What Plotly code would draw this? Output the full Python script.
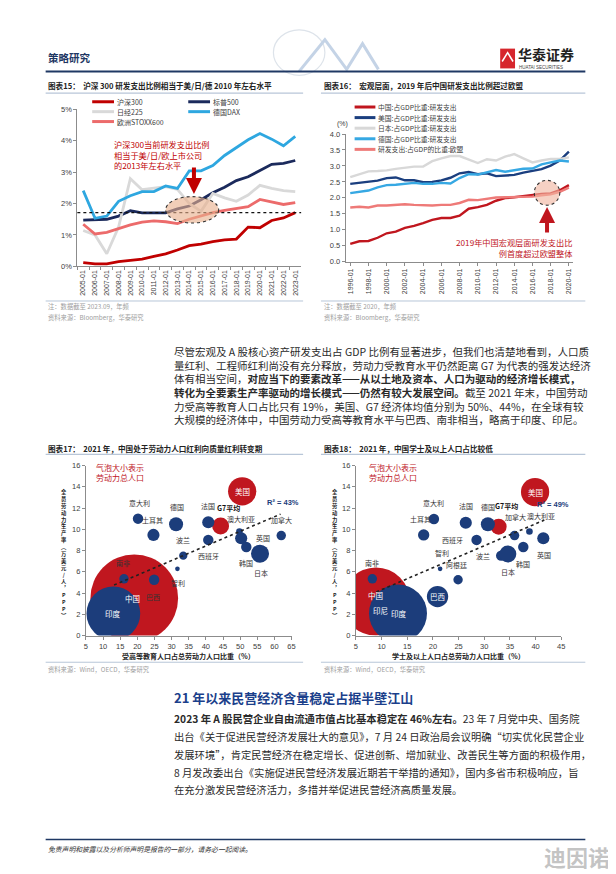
import plotly.graph_objects as go

W, H = 616, 874
def px(x): return x / W
def py(y): return 1 - y / H

# ---------------- data: chart 15 (listed-company R&D / revenue, %) ----------------
years15 = ["2005-01", "2006-01", "2007-01", "2008-01", "2009-01", "2010-01", "2011-01",
           "2012-01", "2013-01", "2014-01", "2015-01", "2016-01", "2017-01", "2018-01",
           "2019-01", "2020-01", "2021-01", "2022-01", "2023-01"]
hs300 = [0.12, 0.08, 0.08, 0.15, 0.19, 0.23, 0.32, 0.40, 0.52, 0.66, 0.71, 0.79, 0.84, 0.87,
         1.25, 1.23, 1.46, 1.54, 1.71]
sp500 = [1.47, 1.48, 1.50, 1.60, 1.77, 1.70, 1.70, 1.70, 1.83, 1.92, 2.12, 2.34, 2.52, 2.73,
         2.85, 3.04, 3.25, 3.28, 3.37]
nikkei225 = [1.14, 1.00, 0.40, 1.25, 2.79, 2.44, 2.49, 2.54, 2.45, 2.00, 1.75, 2.32, 2.18, 2.07,
             2.27, 2.58, 2.48, 2.41, 2.38]
dax = [2.41, 1.53, 1.60, 2.07, 2.25, 2.38, 2.38, 2.56, 2.48, 3.04, 3.04, 3.21, 3.53, 3.77,
       4.03, 4.23, 4.05, 3.84, 4.14]
stoxx600 = [1.34, 1.03, 1.08, 1.20, 1.32, 1.41, 1.45, 1.42, 1.36, 1.50, 1.60, 1.71, 1.78, 1.83,
            1.90, 2.13, 2.06, 1.97, 2.03]
names15 = ["沪深300", "标普500", "日经225", "德国DAX", "欧洲STOXX600"]

# ---------------- data: chart 16 (GERD / GDP, %) ----------------
years16 = [f"{y}-01" for y in range(1996, 2021)]
china_rd = [0.56, 0.64, 0.65, 0.75, 0.89, 0.94, 1.06, 1.12, 1.21, 1.31, 1.37, 1.37, 1.44, 1.66,
            1.71, 1.78, 1.91, 1.99, 2.02, 2.06, 2.10, 2.12, 2.14, 2.24, 2.40]
us_rd = [2.44, 2.47, 2.50, 2.54, 2.62, 2.64, 2.55, 2.55, 2.49, 2.50, 2.55, 2.63, 2.77, 2.81,
         2.74, 2.77, 2.68, 2.71, 2.72, 2.79, 2.85, 2.90, 3.01, 3.17, 3.45]
japan_rd = [2.65, 2.73, 2.83, 2.84, 2.86, 2.91, 2.95, 2.98, 2.98, 3.15, 3.24, 3.31, 3.31, 3.19,
            3.09, 3.21, 3.17, 3.29, 3.37, 3.24, 3.11, 3.17, 3.22, 3.22, 3.27]
germany_rd = [2.15, 2.20, 2.23, 2.33, 2.40, 2.41, 2.43, 2.47, 2.44, 2.44, 2.47, 2.45, 2.62, 2.74,
              2.73, 2.81, 2.87, 2.82, 2.87, 2.91, 2.92, 3.05, 3.11, 3.17, 3.14]
eu_rd = [1.70, 1.72, 1.70, 1.76, 1.76, 1.78, 1.80, 1.78, 1.76, 1.76, 1.78, 1.78, 1.84, 1.94,
         1.93, 1.97, 2.01, 2.02, 2.03, 2.04, 2.04, 2.08, 2.11, 2.19, 2.32]
names16 = ["中国:占GDP比重:研发支出", "美国:占GDP比重:研发支出", "日本:占GDP比重:研发支出",
           "德国:占GDP比重:研发支出", "研发支出:占GDP的比重:欧盟"]

# ---------------- data: chart 17 (tertiary-educated share vs productivity) ----------------
c17 = ["巴西", "中国", "印度", "美国", "G7平均", "南非", "意大利", "土耳其", "德国", "法国", "波兰",
       "西班牙", "智利", "阿根廷", "澳大利亚", "加拿大", "英国", "韩国", "日本"]
edu17 = [19.5, 19.1, 13.0, 50.6, 44.3, 16.1, 20.2, 24.7, 31.3, 40.7, 40.7,
         33.4, 31.7, 24.9, 49.8, 62.0, 50.3, 51.8, 55.8]
prod17 = [3.5, 3.5, 2.08, 13.58, 10.31, 5.34, 11.0, 9.47, 10.47, 10.66, 9.0,
          7.52, 6.28, 5.25, 9.79, 9.41, 9.16, 8.33, 7.70]
labour17 = [46, 780, 293, 81, 29, 9, 11, 15, 20, 15, 11, 7, 2.2, 11, 4.5, 9, 15, 11, 33]
trend17_x = [13.2, 61.8]
trend17_y = [4.75, 11.43]

# ---------------- data: chart 18 (bachelor+ share vs productivity) ----------------
c18 = ["印尼", "中国", "印度", "巴西", "美国", "G7平均", "南非", "意大利", "土耳其", "法国", "德国",
       "西班牙", "智利", "阿根廷", "波兰", "日本", "韩国", "英国", "加拿大", "澳大利亚"]
edu18 = [10.3, 8.9, 13.2, 20.9, 39.9, 32.8, 8.2, 20.2, 18.2, 26.4, 30.7,
         28.5, 21.4, 24.9, 33.3, 34.6, 37.6, 41.5, 35.9, 38.8]
prod18 = [2.55, 3.2, 2.08, 3.67, 13.51, 10.25, 5.34, 10.97, 9.47, 10.62, 10.47,
          9.0, 6.28, 5.25, 7.52, 7.67, 8.33, 9.16, 9.41, 9.79]
labour18 = [60, 470, 341, 46, 81, 26, 9, 11, 13, 15, 20, 11, 2.2, 9, 11, 29, 11, 15, 9, 4.5]
trend18_x = [7.9, 41.7]
trend18_y = [3.88, 10.87]

# ---------------- styles ----------------
CJK = "Noto Sans CJK SC, Liberation Sans, sans-serif"
LAT = "Liberation Sans, Noto Sans CJK SC, sans-serif"
RED = "#C0171F"
NAVY = "#1C3D7B"
TXT = "#333333"
RULE = "#B8C6D8"
col15 = ["#C00000", "#1B2A5C", "#D9D9D9", "#2EA7E0", "#EC6B6B"]
col16 = ["#C0161E", "#1B3F7F", "#D8D8D8", "#36A8E3", "#EE7A78"]
REDS = {"中国", "美国", "G7平均"}

fig = go.Figure()

# chart 15 lines
for nm, ys, c in zip(names15, [hs300, sp500, nikkei225, dax, stoxx600], col15):
    fig.add_trace(go.Scatter(x=years15, y=ys, mode="lines", name=nm,
                             line=dict(color=c, width=2.8), xaxis="x", yaxis="y",
                             showlegend=False))
# chart 16 lines
for nm, ys, c in zip(names16, [china_rd, us_rd, japan_rd, germany_rd, eu_rd], col16):
    fig.add_trace(go.Scatter(x=years16, y=ys, mode="lines", name=nm,
                             line=dict(color=c, width=2.4), xaxis="x2", yaxis="y2",
                             showlegend=False))

SIZEREF = 780 / 62 ** 2
def bubbles(names, xs, ys, sz, xa, ya):
    cols = [RED if n in REDS else NAVY for n in names]
    fig.add_trace(go.Scatter(x=xs, y=ys, mode="markers", text=names, xaxis=xa, yaxis=ya,
                             marker=dict(size=sz, sizemode="area", sizeref=SIZEREF,
                                         color=cols, opacity=1, line=dict(width=0)),
                             showlegend=False))

bubbles(c17, edu17, prod17, labour17, "x3", "y3")
bubbles(c18, edu18, prod18, labour18, "x4", "y4")
# dotted trend lines drawn above the bubbles
fig.add_trace(go.Scatter(x=trend17_x, y=trend17_y, mode="lines", xaxis="x3", yaxis="y3",
                         line=dict(color="#222", width=1.6, dash="dot"), showlegend=False))
fig.add_trace(go.Scatter(x=trend18_x, y=trend18_y, mode="lines", xaxis="x4", yaxis="y4",
                         line=dict(color="#222", width=1.6, dash="dot"), showlegend=False))

axis_common = dict(showgrid=False, zeroline=False, showline=True, linecolor="#8C8C8C",
                   linewidth=1, ticks="outside", ticklen=3, tickcolor="#8C8C8C",
                   tickfont=dict(family=LAT, size=7.5, color="#404040"))

fig.update_layout(
    width=W, height=H, margin=dict(l=0, r=0, t=0, b=0),
    paper_bgcolor="white", plot_bgcolor="rgba(0,0,0,0)", showlegend=False,
    xaxis=dict(axis_common, type="category", domain=[px(68), px(294)], anchor="y",
               range=[-0.5, len(years15) - 0.5], tickangle=-90, tickson="boundaries",
               tickfont=dict(family=LAT, size=7, color="#404040")),
    yaxis=dict(axis_common, domain=[py(257), py(98.3)], anchor="x", range=[0, 5],
               dtick=1, ticksuffix="%"),
    xaxis2=dict(axis_common, type="category", domain=[px(339), px(569)], anchor="y2",
                range=[-0.5, len(years16) - 0.5], tickangle=-90,
                tickvals=years16[::2], ticktext=years16[::2],
                tickfont=dict(family=LAT, size=7, color="#404040")),
    yaxis2=dict(axis_common, domain=[py(252.3), py(123.3)], anchor="x2", range=[0, 4],
                dtick=0.5, tickformat=".1f"),
    xaxis3=dict(axis_common, domain=[px(76.7), px(284.3)], anchor="y3", range=[5, 65],
                dtick=5),
    yaxis3=dict(axis_common, domain=[py(630), py(458.3)], anchor="x3", range=[0, 16],
                dtick=2),
    xaxis4=dict(axis_common, domain=[px(349.3), px(556.7)], anchor="y4", range=[5, 45],
                dtick=5),
    yaxis4=dict(axis_common, domain=[py(630), py(458.3)], anchor="x4", range=[0, 16],
                dtick=2),
)

shapes = []
anns = []

def hline(x0, x1, y, color, width):
    shapes.append(dict(type="line", xref="paper", yref="paper", x0=px(x0), x1=px(x1),
                       y0=py(y), y1=py(y), line=dict(color=color, width=width)))

def txt(x, y, s, size=7, color=TXT, anchor="left", family=CJK, angle=0):
    anns.append(dict(x=px(x), y=py(y), xref="paper", yref="paper", text=s, showarrow=False,
                     xanchor=anchor, yanchor="middle", textangle=angle, align=anchor
                     if anchor != "center" else "center",
                     font=dict(family=family, size=size, color=color), borderpad=0))

# ---- page header ----
shapes.append(dict(type="circle", xref="paper", yref="paper", x0=px(266), x1=px(318),
                   y0=py(64), y1=py(18), line=dict(color="#DDE3EA", width=1.2)))
shapes.append(dict(type="path", xref="paper", yref="paper",
                   path=f"M {px(292)} {py(60)} L {px(318)} {py(28)} L {px(340)} {py(58)} "
                        f"L {px(356)} {py(32)} L {px(372)} {py(58)}",
                   line=dict(color="#C4D3E6", width=3)))
txt(37, 46, "<b>策略研究</b>", 10.5, "#1F3864")
shapes.append(dict(type="rect", xref="paper", yref="paper", x0=px(495), x1=px(510),
                   y0=py(57), y1=py(37), fillcolor="#D6262C", line=dict(width=0)))
shapes.append(dict(type="path", xref="paper", yref="paper",
                   path=f"M {px(497)} {py(50)} L {px(502.5)} {py(41)} L {px(508)} {py(50)}",
                   line=dict(color="white", width=1.5)))
txt(512, 42.5, "<b>华泰证券</b>", 14, "#222222")
txt(513, 56.5, "HUATAI SECURITIES", 4.5, "#444444", family=LAT)
hline(36, 581, 60, "#1F3864", 2)

# ---- chart titles & rules ----
txt(37, 74, "<b>图表15：  沪深 300 研发支出比例相当于美/日/德 2010 年左右水平</b>", 7.6, "#222")
txt(316, 74, "<b>图表16：  宏观层面，2019 年后中国研发支出比例超过欧盟</b>", 7.6, "#222")
hline(36, 296, 82, RULE, 1.2)
hline(314, 581, 82, RULE, 1.2)
hline(36, 296, 292, RULE, 1)
hline(314, 581, 292, RULE, 1)
txt(37, 298, "注：数据截至 2023.09，年频", 6.3, "#A0A0A0")
txt(37, 309, "资料来源：Bloomberg，华泰研究", 6.3, "#A0A0A0")
txt(316, 298, "注：数据截至 2020，年频", 6.3, "#A0A0A0")
txt(316, 309, "资料来源：Bloomberg，华泰研究", 6.3, "#A0A0A0")

txt(37, 441, "<b>图表17：  2021 年，中国处于劳动力人口红利向质量红利转变期</b>", 7.6, "#222")
txt(316, 441, "<b>图表18：  2021 年，中国学士及以上人口占比较低</b>", 7.6, "#222")
hline(36, 296, 447, RULE, 1.2)
hline(314, 581, 447, RULE, 1.2)
hline(36, 296, 657, RULE, 1)
hline(314, 581, 657, RULE, 1)
txt(37, 664, "资料来源：Wind，OECD，华泰研究", 6.3, "#A0A0A0")
txt(316, 664, "资料来源：Wind，OECD，华泰研究", 6.3, "#A0A0A0")

# ---- chart 15 legend ----
leg15 = [(0, 83, 90.7), (2, 83, 100.7), (4, 83, 110.7), (1, 180, 90.7), (3, 180, 100.7)]
for i, x0, y in leg15:
    hline(x0, x0 + 22, y, col15[i], 3)
    txt(x0 + 24, y, names15[i], 7, "#404040")

# ---- chart 15 decorations ----
shapes.append(dict(type="line", xref="x domain", yref="y", x0=0, x1=1,
                   y0=hs300[-1], y1=hs300[-1],
                   line=dict(color="#111", width=1.4, dash="dot"), layer="above"))
shapes.append(dict(type="circle", xref="x", yref="y", x0=7.0, x1=11.5, y0=1.38, y1=2.22,
                   fillcolor="rgba(232,176,140,0.62)",
                   line=dict(color="#333", width=1.1, dash="dot"), layer="above"))
anns.append(dict(x=9.4, y=2.30, xref="x", yref="y", ax=0, ay=-28, text="", showarrow=True,
                 arrowhead=2, arrowsize=0.8, arrowwidth=4, arrowcolor="#C00000"))
txt(104, 143.7, "沪深300当前研发支出比例<br>相当于美/日/欧上市公司<br>的2013年左右水平",
    8.2, "#C00000")

# ---- chart 16 legend & decorations ----
for i in range(5):
    y = 96 + i * 10.7
    hline(348, 369, y, col16[i], 3)
    txt(371, y, names16[i], 6.8, "#404040")
txt(336, 113, "(%)", 7, "#404040", anchor="center", family=LAT)
shapes.append(dict(type="circle", xref="x2", yref="y2", x0=20.2, x1=23.0, y0=1.77, y1=2.55,
                   fillcolor="rgba(240,180,160,0.62)",
                   line=dict(color="#333", width=1.1, dash="dot"), layer="above"))
anns.append(dict(x=21.6, y=1.71, xref="x2", yref="y2", ax=0, ay=27, text="", showarrow=True,
                 arrowhead=2, arrowsize=0.8, arrowwidth=4, arrowcolor="#C0161E"))
txt(569, 238.3, "2019年中国宏观层面研发支出比<br>例首度超过欧盟整体", 8.2, "#C0161E",
    anchor="right")

# ---- bubble chart labels ----
def blabel(xa, ya, x, y, s, dx, dy, color=TXT, size=7, bold=False):
    anns.append(dict(x=x, y=y, xref=xa, yref=ya, text=f"<b>{s}</b>" if bold else s,
                     showarrow=False, xshift=dx, yshift=dy, xanchor="center",
                     yanchor="middle", font=dict(family=CJK, size=size, color=color)))

lab17 = {"中国": (-2, 0, "w"), "巴西": (17, 1, "d"), "印度": (0, 0, "w"), "美国": (0, 0, "w"),
         "G7平均": (8, 18, "b"), "南非": (-1, 16, "d"), "意大利": (1, 16, "d"),
         "土耳其": (-1, 15, "d"), "德国": (1, 17, "d"), "法国": (0, 16, "d"),
         "波兰": (-25, 0, "d"), "西班牙": (25, 0, "d"), "智利": (1, -14, "d"),
         "澳大利亚": (2, 13, "d"), "加拿大": (0, 16, "d"), "英国": (22, 0, "d"),
         "韩国": (0, -16, "d"), "日本": (1, -19, "d")}
for n, x, y in zip(c17, edu17, prod17):
    if n in lab17:
        dx, dy, k = lab17[n]
        col = "white" if k == "w" else ("#111" if k == "b" else "#333")
        blabel("x3", "y3", x, y, n, dx, dy, col, 7.5 if k == "w" else 7, k == "b")

lab18 = {"印尼": (-3, -2, "w"), "中国": (0, 6, "w"), "印度": (1, 0, "w"), "巴西": (0, 0, "w"),
         "美国": (0, 0, "w"), "G7平均": (8, 21, "b"), "南非": (0, 16, "d"),
         "意大利": (0, 16, "d"), "土耳其": (-3, 16, "d"), "法国": (0, 17, "d"),
         "德国": (0, 17, "d"), "西班牙": (-24, 0, "d"), "智利": (2, 16, "d"),
         "阿根廷": (-2, 15, "d"), "波兰": (-18, 0, "d"), "日本": (0, -18, "d"),
         "韩国": (0, -17, "d"), "英国": (1, -17, "d"), "加拿大": (1, 19, "d"),
         "澳大利亚": (12, 16, "d")}
for n, x, y in zip(c18, edu18, prod18):
    if n in lab18:
        dx, dy, k = lab18[n]
        col = "white" if k == "w" else ("#111" if k == "b" else "#333")
        blabel("x4", "y4", x, y, n, dx, dy, col, 7.5 if k == "w" else 7, k == "b")

txt(86, 465, "气泡大小表示<br>劳动力总人口", 8, RED)
txt(362, 465, "气泡大小表示<br>劳动力总人口", 8, RED)
txt(293, 496, "<b>R² = 43%</b>", 7.5, NAVY, anchor="right", family=LAT)
txt(566, 497.5, "<b>R² = 49%</b>", 7.5, NAVY, anchor="right", family=LAT)
txt(180, 651, "<b>受高等教育人口占总劳动力人口比重（%）</b>", 7, "#222", anchor="center")
txt(453, 651, "<b>学士及以上人口占总劳动力人口比重（%）</b>", 7, "#222", anchor="center")

# stacked (vertical) y-axis titles, one text block each
YTITLE = "全员劳动力生产率︵万美元/人︐PPP︶"
vt = "<br>".join(f"<b>{c}</b>" for c in YTITLE)
txt(55, 548, vt, 5.3, "#222", anchor="center")
txt(328.5, 548, vt, 5.3, "#222", anchor="center")

# ---- body text ----
BX = 165
para1 = [
    "尽管宏观及 A 股核心资产研发支出占 GDP 比例有显著进步，但我们也清楚地看到，人口质",
    "量红利、工程师红利尚没有充分释放，劳动力受教育水平仍然距离 G7 为代表的强发达经济",
    "体有相当空间，<b>对应当下的要素改革——从以土地及资本、人口为驱动的经济增长模式，</b>",
    "<b>转化为全要素生产率驱动的增长模式——仍然有较大发展空间。</b>截至 2021 年末，中国劳动",
    "力受高等教育人口占比只有 19%，美国、G7 经济体均值分别为 50%、44%，在全球有较",
    "大规模的经济体中，中国劳动力受高等教育水平与巴西、南非相当，略高于印度、印尼。",
]
txt(BX, 377, "<br>".join(para1), 10.5, "#2A2A2A")

txt(BX, 693, "<b>21 年以来民营经济含量稳定占据半壁江山</b>", 13, "#1B3F8B")
para2 = [
    "<b>2023 年 A 股民营企业自由流通市值占比基本稳定在 46%左右。</b>23 年 7 月党中央、国务院",
    "出台《关于促进民营经济发展壮大的意见》，7 月 24 日政治局会议明确“切实优化民营企业",
    "发展环境”，肯定民营经济在稳定增长、促进创新、增加就业、改善民生等方面的积极作用，",
    "8 月发改委出台《实施促进民营经济发展近期若干举措的通知》，国内多省市积极响应，旨",
    "在充分激发民营经济活力，多措并举促进民营经济高质量发展。",
]
for k, s in enumerate(para2):
    txt(BX, 714 + k * 18, s, 10.3, "#2A2A2A")

# ---- footer ----
hline(36, 581, 836, "#1F3864", 1.5)
txt(37, 846, "<i>免责声明和披露以及分析师声明是报告的一部分，请务必一起阅读。</i>", 6.8, "#333")
txt(573, 853, "<b>迪因诺</b>", 22, "rgba(170,170,170,0.7)", anchor="center")

fig.update_layout(shapes=shapes, annotations=anns)
fig.write_html("out.html")
